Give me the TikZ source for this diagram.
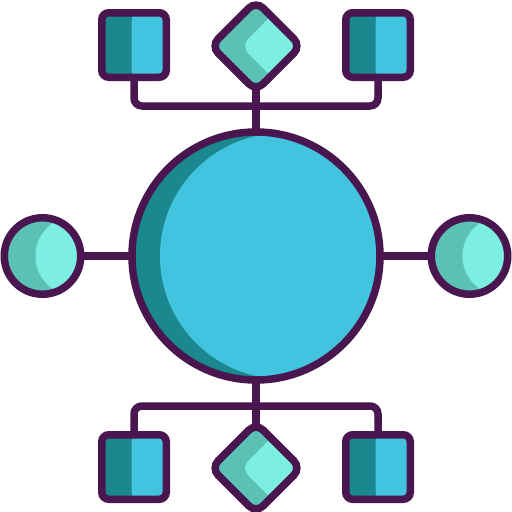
\documentclass[tikz,border=0pt]{standalone}
\usetikzlibrary{shapes.geometric,backgrounds}
\definecolor{plum}{HTML}{4A1650}
\definecolor{skyblue}{HTML}{42C3DF}
\definecolor{deepteal}{HTML}{1B878F}
\definecolor{mint}{HTML}{7DEEE2}
\definecolor{seafoam}{HTML}{5AC1B4}
\tikzset{
  icon/.style={draw=plum,line width=7.5pt,inner sep=0pt,outer sep=0pt},
  wire/.style={draw=plum,line width=7.5pt,rounded corners=8pt},
  hubball/.style={icon,circle,minimum size=248pt,fill=deepteal,
    path picture={\fill[skyblue] ([xshift=27pt]path picture bounding box.center) circle[radius=123pt];}},
  satball/.style={icon,circle,minimum size=76.5pt,fill=seafoam,
    path picture={\fill[mint] ([xshift=33pt]path picture bounding box.center) circle[radius=40pt];}},
  box/.style={icon,rectangle,minimum size=64.5pt,rounded corners=7pt,fill=deepteal,
    path picture={\fill[skyblue] ([xshift=-2.5pt]path picture bounding box.south) rectangle (path picture bounding box.north east);}},
  gem/.style={icon,diamond,aspect=1,minimum size=90pt,rounded corners=10pt,fill=seafoam,
    path picture={\fill[mint] ([xshift=30pt]path picture bounding box.north) -- ([xshift=30pt]path picture bounding box.east)
      -- ([xshift=30pt]path picture bounding box.south) -- ([xshift=30pt]path picture bounding box.west) -- cycle;}}
}
\begin{document}
\begin{tikzpicture}[x=1pt,y=-1pt]
  \useasboundingbox (0,0) rectangle (512,512);
  \node[hubball] (hub) at (256,256) {};
  \node[satball] (lsat) at (42.5,256) {};
  \node[satball] (rsat) at (469.5,256) {};
  \foreach \pos/\y in {t/45,b/467}
    {\node[box] (\pos l) at (134,\y) {};
     \node[gem] (\pos d) at (256,\y+1) {};
     \node[box] (\pos r) at (378,\y) {};}
  \coordinate (tjoin) at (256,106);
  \coordinate (bjoin) at (256,406);
  \begin{scope}[on background layer]
    \draw[wire] (lsat.center) -- (hub.center);
    \draw[wire] (hub.center) -- (rsat.center);
    \draw[wire] (tl.center) |- (tjoin) -| (tr.center);
    \draw[wire] (td.center) -- (hub.center);
    \draw[wire] (bl.center) |- (bjoin) -| (br.center);
    \draw[wire] (bd.center) -- (hub.center);
  \end{scope}
\end{tikzpicture}
\end{document}
